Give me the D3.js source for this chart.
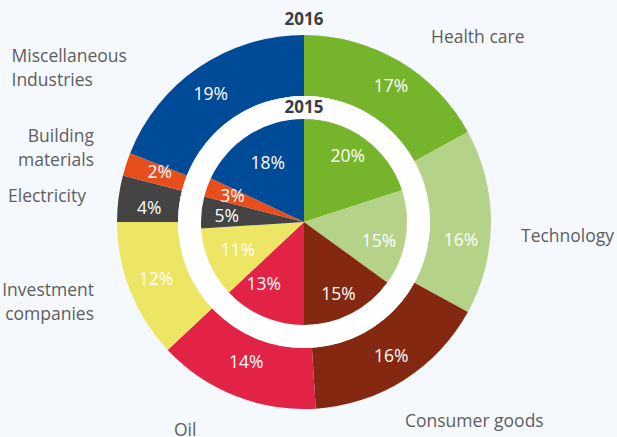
<!DOCTYPE html>
<html>
<head>
<meta charset="utf-8">
<script src="https://cdn.jsdelivr.net/npm/d3@7"></script>
<style>
  html, body { margin: 0; padding: 0; background: #f5f9fd; }
  svg { display: block; }
  text { font-family: "Open Sans", "Noto Sans", sans-serif; }
</style>
</head>
<body>
<svg id="chart" width="617" height="437"></svg>
<script>
// ---- data ----
const categories = ["Health care", "Technology", "Consumer goods", "Oil",
  "Investment companies", "Electricity", "Building materials", "Miscellaneous Industries"];
const values2016 = [17, 16, 16, 14, 12, 4, 2, 19];
const values2015 = [20, 15, 15, 13, 11, 5, 3, 18];
const colors = ["#76b52b", "#b5d388", "#852811", "#e32346", "#ede564", "#444444", "#e84e1b", "#004b97"];
const yearLabels = ["2016", "2015"];

// ---- layout ----
const W = 617, H = 437;
const cx = 304, cy = 222;
const outerR = 187, outerInnerR = 126, innerR = 103;
const outerLabelR = 157, innerLabelR = 76;

// label nudges (px) relative to arc centroids
const outerNudge = [[7,-1],[0,18],[3,1],[0,-6],[-2,-1],[1,5],[5,-2],[-5,2]];
const innerNudge = [[-1,-4.5],[0,7],[0,4],[-10,-8.5],[3.5,-2],[-1.5,1],[0,-1],[4.5,4.5]];

// category label placement
const catLabels = [
  {lines: ["Health care"], x: 431, y: 43, anchor: "start"},
  {lines: ["Technology"], x: 521, y: 242, anchor: "start"},
  {lines: ["Consumer goods"], x: 405, y: 426.5, anchor: "start"},
  {lines: ["Oil"], x: 174, y: 436, anchor: "start"},
  {lines: ["Investment", "companies"], x: 94, y: 296, anchor: "end"},
  {lines: ["Electricity"], x: 8, y: 201.5, anchor: "start"},
  {lines: ["Building", "materials"], x: 94, y: 141.5, anchor: "end"},
  {lines: ["Miscellaneous", "Industries"], x: 11.5, y: 61.5, anchor: "start"}
];

const svg = d3.select("#chart");
const g = svg.append("g").attr("transform", `translate(${cx},${cy})`);

const color = d3.scaleOrdinal().domain(categories).range(colors);
const pie = d3.pie().sort(null).value(d => d.v);

const outerData = pie(categories.map((c, i) => ({c, v: values2016[i], i})));
const innerData = pie(categories.map((c, i) => ({c, v: values2015[i], i})));

const outerArc = d3.arc().innerRadius(outerInnerR).outerRadius(outerR);
const innerArc = d3.arc().innerRadius(0).outerRadius(innerR);
const outerLabelArc = d3.arc().innerRadius(outerLabelR).outerRadius(outerLabelR);
const innerLabelArc = d3.arc().innerRadius(innerLabelR).outerRadius(innerLabelR);

g.selectAll("path.outer").data(outerData).join("path")
  .attr("class", "outer")
  .attr("d", outerArc)
  .attr("fill", d => color(d.data.c));

g.append("circle").attr("r", outerInnerR).attr("fill", "#ffffff");

g.selectAll("path.inner").data(innerData).join("path")
  .attr("class", "inner")
  .attr("d", innerArc)
  .attr("fill", d => color(d.data.c));

const pctStyle = sel => sel
  .attr("text-anchor", "middle")
  .attr("dy", "0.36em")
  .attr("fill", "#ffffff")
  .style("font-size", "17.5px");

g.selectAll("text.outerPct").data(outerData).join("text")
  .attr("class", "outerPct")
  .attr("x", d => outerLabelArc.centroid(d)[0] + outerNudge[d.data.i][0])
  .attr("y", d => outerLabelArc.centroid(d)[1] + outerNudge[d.data.i][1])
  .text(d => d.data.v + "%")
  .call(pctStyle);

g.selectAll("text.innerPct").data(innerData).join("text")
  .attr("class", "innerPct")
  .attr("x", d => innerLabelArc.centroid(d)[0] + innerNudge[d.data.i][0])
  .attr("y", d => innerLabelArc.centroid(d)[1] + innerNudge[d.data.i][1])
  .text(d => d.data.v + "%")
  .call(pctStyle);

// year titles
svg.append("text").attr("x", cx).attr("y", 25)
  .attr("text-anchor", "middle").attr("fill", "#3d3d3d")
  .style("font-size", "17px").style("font-weight", "700")
  .text(yearLabels[0]);
svg.append("text").attr("x", cx).attr("y", 113.3)
  .attr("text-anchor", "middle").attr("fill", "#3d3d3d")
  .style("font-size", "17px").style("font-weight", "700")
  .text(yearLabels[1]);

// category labels
catLabels.forEach(l => {
  const t = svg.append("text")
    .attr("x", l.x).attr("y", l.y)
    .attr("text-anchor", l.anchor)
    .attr("fill", "#5e5e5e")
    .style("font-size", "17.5px");
  l.lines.forEach((s, k) => {
    t.append("tspan").attr("x", l.x).attr("dy", k === 0 ? 0 : 24.3).text(s);
  });
});
</script>
</body>
</html>
